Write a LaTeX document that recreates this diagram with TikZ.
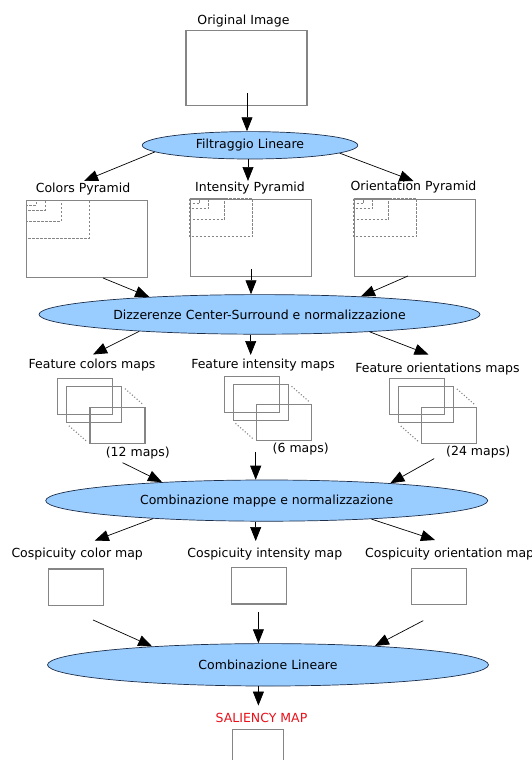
\documentclass[tikz,border=0pt]{standalone}
\usepackage{fontspec}
\setmainfont{DejaVu Sans}
\usepackage{tikz}
\usetikzlibrary{arrows.meta,shapes.geometric}
\definecolor{ellblue}{HTML}{99CCFF}
\definecolor{ellline}{HTML}{1C2E4A}
\definecolor{boxgray}{HTML}{858585}
\definecolor{salred}{HTML}{E8101A}
\tikzset{
    imgbox/.style={draw=boxgray, line width=1.1pt, inner sep=0pt},
    mapbox/.style={imgbox, minimum width=55pt, minimum height=36pt},
    stageell/.style={ellipse, draw=ellline, line width=0.7pt, fill=ellblue, inner sep=0pt},
    pyrdash/.style={draw=boxgray, line width=0.8pt, dash pattern=on 2.5pt off 1.5pt},
    mapdots/.style={draw=boxgray, line width=1.1pt, dotted, shorten >=4pt, shorten <=4pt},
    arr/.style={->, line width=0.7pt}
}
% pyramid: name, x, y of top-left corner
\newcommand{\pyrbox}[3]{
    \node[imgbox, anchor=north west, minimum width=121pt, minimum height=77pt] (#1) at (#2,#3) {};
    \draw[pyrdash] (#1.north west) rectangle +(63,38);
    \draw[pyrdash] (#1.north west) rectangle +(35,21);
    \draw[pyrdash] (#1.north west) rectangle +(19,10);
    \draw[pyrdash] (#1.north west) rectangle +(10,5);
}
% stack of feature maps: name, x, y of first map top-left
\newcommand{\mapstack}[3]{
    \node[mapbox, anchor=north west] (#1a) at (#2,#3) {};
    \node[mapbox, anchor=north west] (#1b) at (#2+9,#3+8) {};
    \node[mapbox, anchor=north west] (#1c) at (#2+32.5,#3+28.7) {};
    \draw[mapdots] (#1b.north east) -- (#1c.north east);
    \draw[mapdots] (#1b.south west) -- (#1c.south west);
}
\begin{document}
\begin{tikzpicture}[x=1pt,y=-1pt,font=\fontsize{12.5}{14}\selectfont,>={Triangle[length=14pt,width=11pt]}]
    \useasboundingbox (0,0) rectangle (531,760);

    % input and linear filtering
    \node (origlbl) at (243.5,21.5) {Original Image};
    \node[imgbox, minimum width=121pt, minimum height=75pt] (orig) at (246.5,68.3) {};
    \node[stageell, minimum width=215.5pt, minimum height=27.4pt] (filt) at (250,145.3) {Filtraggio Lineare};
    \coordinate (origout) at (247,93);
    \draw[arr] (origout) -- (origout |- filt.north);

    % pyramids
    \node (colpyrlbl) at (83,189.2) {Colors Pyramid};
    \node (intpyrlbl) at (250,188.2) {Intensity Pyramid};
    \node (oripyrlbl) at (413.5,187.2) {Orientation Pyramid};
    \pyrbox{colpyr}{26}{200}
    \pyrbox{intpyr}{189.7}{198.6}
    \pyrbox{oripyr}{353.6}{198.6}
    \coordinate (colpyrin) at (84,181);
    \coordinate (intpyrin) at (248,181);
    \coordinate (oripyrin) at (413.5,181);
    \draw[arr] (filt.184.3) -- (colpyrin);
    \draw[arr] (intpyrin |- filt.south) -- (intpyrin);
    \draw[arr] (filt.355.7) -- (oripyrin);

    % center-surround
    \node[stageell, minimum width=441pt, minimum height=39.6pt] (diff) at (259.5,314.4) {Dizzerenze Center-Surround e normalizzazione};
    \coordinate (colpyrout) at (103,278);
    \coordinate (intpyrout) at (251,269);
    \coordinate (oripyrout) at (408,276);
    \draw[arr] (colpyrout) -- (diff.171.7);
    \draw[arr] (intpyrout) -- (intpyrout |- diff.north);
    \draw[arr] (oripyrout) -- (diff.10.2);

    % feature maps
    \node (featcollbl) at (92.1,365.4) {Feature colors maps};
    \node (featintlbl) at (263.1,365.4) {Feature intensity maps};
    \node (featorilbl) at (437.5,368.8) {Feature orientations maps};
    \mapstack{colmaps}{56.9}{378}
    \mapstack{intmaps}{223.5}{375.6}
    \mapstack{orimaps}{388.8}{378.3}
    \node (colcount) at (137.8,453.5) {(12 maps)};
    \node (intcount) at (300.7,449) {(6 maps)};
    \node (oricount) at (478.2,451.8) {(24 maps)};
    \coordinate (featcolin) at (93,354.5);
    \coordinate (featintin) at (250.7,355);
    \coordinate (featoriin) at (428.5,354.5);
    \draw[arr] (diff.188.8) -- (featcolin);
    \draw[arr] (featintin |- diff.south) -- (featintin);
    \draw[arr] (diff.351.4) -- (featoriin);

    % combination of maps
    \node[stageell, minimum width=442pt, minimum height=41.2pt] (comb) at (266.7,500.6) {Combinazione mappe e normalizzazione};
    \coordinate (colmapsout) at (122.6,462.7);
    \coordinate (intmapsout) at (255.7,451.9);
    \coordinate (orimapsout) at (434.2,458.6);
    \draw[arr] (colmapsout) -- (comb.170.1);
    \draw[arr] (intmapsout) -- (intmapsout |- comb.north);
    \draw[arr] (orimapsout) -- (comb.8.7);

    % conspicuity maps
    \node (cospcollbl) at (77.2,553.9) {Cospicuity color map};
    \node (cospintlbl) at (264.8,553.9) {Cospicuity intensity map};
    \node[anchor=west, inner sep=0pt] (cosporilbl) at (365,553.9) {Cospicuity orientation map};
    \node[imgbox, minimum width=55pt, minimum height=36.5pt] (cospcol) at (75.9,587.2) {};
    \node[imgbox, minimum width=55pt, minimum height=36.5pt] (cospint) at (259.4,585.7) {};
    \node[imgbox, minimum width=55pt, minimum height=36.5pt] (cospori) at (439.3,586.4) {};
    \coordinate (cospcolin) at (94.8,540.6);
    \coordinate (cospintin) at (255.7,541);
    \coordinate (cosporiin) at (435,540);
    \draw[arr] (comb.189) -- (cospcolin);
    \draw[arr] (cospintin |- comb.south) -- (cospintin);
    \draw[arr] (comb.350.9) -- (cosporiin);

    % linear combination and saliency
    \node[stageell, minimum width=441pt, minimum height=42.4pt] (lin) at (268,664.8) {Combinazione Lineare};
    \coordinate (cospcolout) at (93.1,620);
    \coordinate (cospintout) at (258.4,612.1);
    \coordinate (cosporiout) at (423.3,620.6);
    \draw[arr] (cospcolout) -- (lin.171.1);
    \draw[arr] (cospintout) -- (cospintout |- lin.north);
    \draw[arr] (cosporiout) -- (lin.10.2);
    \node[text=salred] (sallbl) at (261.5,718) {SALIENCY MAP};
    \node[imgbox, anchor=north west, minimum width=51pt, minimum height=40pt] (sal) at (232,729) {};
    \coordinate (salin) at (258.4,705.6);
    \draw[arr] (salin |- lin.south) -- (salin);
\end{tikzpicture}
\end{document}
